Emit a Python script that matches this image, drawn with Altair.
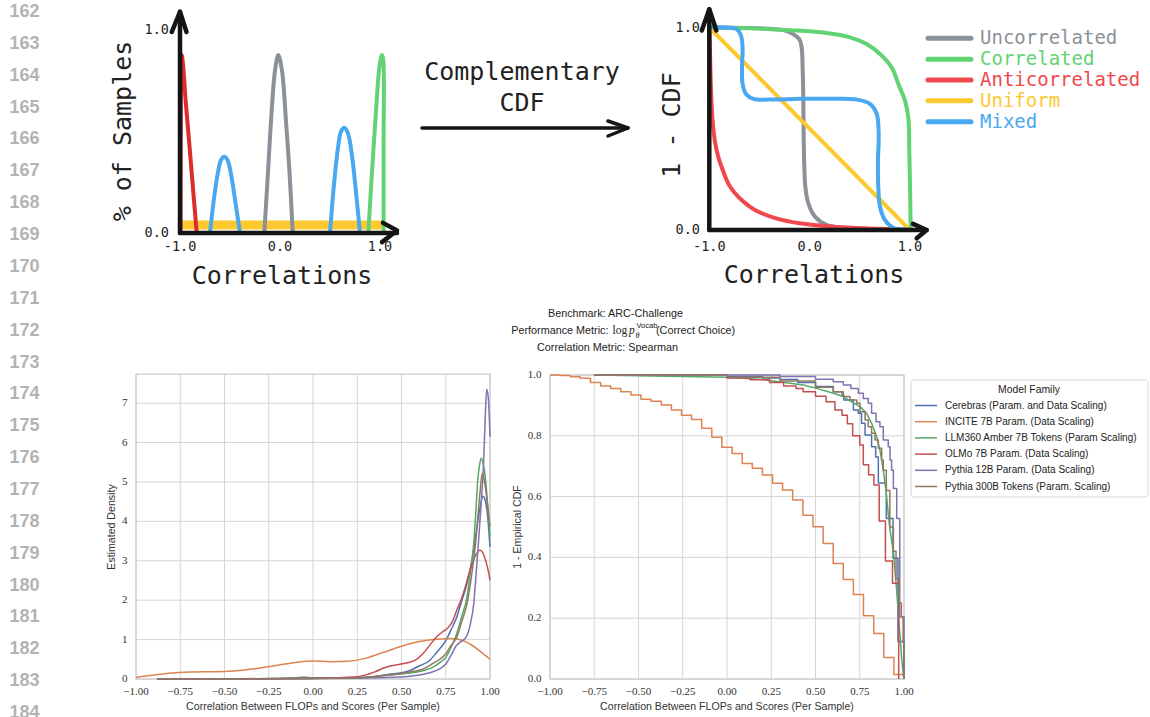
import altair as alt
import pandas as pd

# ---------------- gutter line numbers ----------------
LINE_NUMBERS = list(range(162, 185))

# ---------------- sketch 1: share of samples per correlation ----------------
TL_YELLOW_C = [-0.98, 1.0]
TL_YELLOW_V = [0.039, 0.039]
TL_RED_C = [-0.995, -0.993, -0.989, -0.982, -0.968, -0.945, -0.907, -0.87, -0.833]
TL_RED_V = [0.0, 0.45, 0.78, 0.877, 0.82, 0.66, 0.44, 0.22, 0.0]
TL_BLUE1_C = [-0.70, -0.66, -0.62, -0.59, -0.557, -0.525, -0.49, -0.45, -0.40]
TL_BLUE1_V = [0.0, 0.17, 0.30, 0.36, 0.376, 0.36, 0.29, 0.165, 0.0]
TL_GRAY_C = [-0.157, -0.12, -0.09, -0.05, -0.017, 0.02, 0.06, 0.095, 0.127]
TL_GRAY_V = [0.0, 0.30, 0.55, 0.80, 0.877, 0.80, 0.55, 0.30, 0.0]
TL_BLUE2_C = [0.50, 0.54, 0.58, 0.61, 0.643, 0.68, 0.72, 0.76, 0.80]
TL_BLUE2_V = [0.0, 0.24, 0.42, 0.50, 0.518, 0.49, 0.38, 0.20, 0.0]
TL_GREEN_C = [0.883, 0.92, 0.96, 0.995, 1.02, 1.033, 1.036, 1.036]
TL_GREEN_V = [0.0, 0.30, 0.60, 0.82, 0.877, 0.85, 0.45, 0.0]

# ---------------- sketch 2: complementary CDFs ----------------
TR_GRAY_C = [-1.0, -0.595, -0.262, -0.163, -0.103, -0.080, -0.070, -0.063, -0.060,
             -0.053, -0.043, -0.013, 0.053, 0.169, 0.402, 0.734, 1.0]
TR_GRAY_V = [1.0, 0.997, 0.987, 0.967, 0.943, 0.902, 0.803, 0.639, 0.475,
             0.311, 0.213, 0.131, 0.066, 0.025, 0.008, 0.003, 0.0]
TR_GREEN_C = [-1.0, -0.6, -0.196, 0.136, 0.402, 0.568, 0.701, 0.817, 0.884, 0.950,
              0.983, 0.993, 1.0, 1.007]
TR_GREEN_V = [1.0, 0.996, 0.987, 0.975, 0.951, 0.918, 0.869, 0.803, 0.721, 0.639,
              0.557, 0.393, 0.221, 0.008]
TR_RED_C = [-1.0, -0.993, -0.985, -0.970, -0.945, -0.910, -0.877, -0.80, -0.678,
            -0.55, -0.35, -0.10, 0.24, 0.57, 1.0]
TR_RED_V = [1.0, 0.88, 0.72, 0.56, 0.44, 0.36, 0.311, 0.22, 0.148,
            0.10, 0.06, 0.033, 0.016, 0.008, 0.003]
TR_YELLOW_C = [-1.0, 1.0]
TR_YELLOW_V = [1.0, 0.0]
TR_BLUE_C = [-1.0, -0.827, -0.728, -0.69, -0.672, -0.668, -0.674, -0.668, -0.635,
             -0.561, -0.395, -0.096, 0.269, 0.468, 0.601, 0.668, 0.688, 0.681,
             0.684, 0.701, 0.751, 0.834, 1.0]
TR_BLUE_V = [1.003, 1.0, 0.992, 0.967, 0.93, 0.885, 0.803, 0.721, 0.672,
             0.648, 0.644, 0.648, 0.648, 0.644, 0.623, 0.574, 0.475, 0.344,
             0.213, 0.115, 0.049, 0.011, 0.003]

SKETCH_NAMES = ["Uncorrelated", "Correlated", "Anticorrelated", "Uniform", "Mixed"]
SKETCH_COLORS = ["#8a9198", "#62d372", "#f0484d", "#fcc930", "#4aa8f0"]

# ---------------- model families ----------------
FAMILIES = [
    "Cerebras (Param. and Data Scaling)",
    "INCITE 7B Param. (Data Scaling)",
    "LLM360 Amber 7B Tokens (Param Scaling)",
    "OLMo 7B Param. (Data Scaling)",
    "Pythia 12B Param. (Data Scaling)",
    "Pythia 300B Tokens (Param. Scaling)",
]
FAMILY_COLORS = ["#4c72b0", "#dd8452", "#55a868", "#c44e52", "#8172b3", "#937860"]

# kernel density estimates
KDE_CEREBRAS_C = [-0.88, -0.4, 0.0, 0.25, 0.35, 0.43, 0.5, 0.544, 0.6, 0.659, 0.70, 0.751,
                  0.78, 0.812, 0.84, 0.87, 0.895, 0.918, 0.94, 0.96, 0.972, 0.985, 1.0]
KDE_CEREBRAS_D = [0.0, 0.005, 0.015, 0.03, 0.06, 0.12, 0.16, 0.21, 0.33, 0.47, 0.68, 0.98,
                  1.25, 1.57, 1.98, 2.42, 2.95, 3.6, 4.25, 4.64, 4.55, 4.2, 3.35]
KDE_INCITE_C = [-1.0, -0.9, -0.8, -0.7, -0.6, -0.5, -0.4, -0.3, -0.2, -0.1, 0.0, 0.1, 0.2,
                0.3, 0.4, 0.5, 0.6, 0.7, 0.78, 0.85, 0.9, 0.95, 1.0]
KDE_INCITE_D = [0.04, 0.10, 0.15, 0.175, 0.185, 0.19, 0.22, 0.28, 0.35, 0.42, 0.455, 0.44,
                0.45, 0.53, 0.68, 0.83, 0.95, 1.01, 1.03, 0.97, 0.85, 0.68, 0.50]
KDE_LLM360_C = [-0.88, -0.3, -0.1, -0.05, 0.0, 0.25, 0.43, 0.5, 0.582, 0.63, 0.678, 0.72,
                0.751, 0.78, 0.812, 0.84, 0.87, 0.89, 0.908, 0.92, 0.931, 0.94, 0.95,
                0.962, 0.975, 0.988, 1.0]
KDE_LLM360_D = [0.0, 0.005, 0.03, 0.05, 0.03, 0.03, 0.10, 0.13, 0.17, 0.22, 0.30, 0.43,
                0.55, 0.80, 1.15, 1.58, 2.08, 2.75, 3.43, 4.25, 5.05, 5.4, 5.60,
                5.45, 5.05, 4.35, 3.6]
KDE_OLMO_C = [-0.88, -0.5, 0.0, 0.25, 0.35, 0.4, 0.45, 0.5, 0.55, 0.585, 0.62, 0.66, 0.70,
              0.74, 0.765, 0.79, 0.81, 0.84, 0.86, 0.88, 0.90, 0.92, 0.943, 0.96, 0.975,
              0.99, 1.0]
KDE_OLMO_D = [0.0, 0.005, 0.02, 0.06, 0.18, 0.28, 0.34, 0.38, 0.43, 0.50, 0.64, 0.86, 1.08,
              1.22, 1.31, 1.48, 1.72, 2.05, 2.33, 2.65, 2.93, 3.15, 3.27, 3.2, 3.01,
              2.75, 2.5]
KDE_PYTHIA12_C = [-0.88, 0.0, 0.25, 0.5, 0.6, 0.66, 0.72, 0.75, 0.78, 0.81, 0.84, 0.865,
                  0.889, 0.908, 0.923, 0.937, 0.95, 0.962, 0.972, 0.981, 0.99, 1.0]
KDE_PYTHIA12_D = [0.0, 0.01, 0.02, 0.05, 0.10, 0.16, 0.27, 0.38, 0.60, 0.85, 0.96, 1.06,
                  1.40, 1.91, 2.76, 3.6, 4.45, 5.30, 6.5, 7.35, 7.15, 6.15]
KDE_PYTHIA300_C = [-0.88, -0.3, 0.0, 0.25, 0.43, 0.5, 0.55, 0.621, 0.68, 0.751, 0.78, 0.812,
                   0.84, 0.87, 0.895, 0.918, 0.935, 0.943, 0.956, 0.968, 0.981, 1.0]
KDE_PYTHIA300_D = [0.0, 0.005, 0.015, 0.03, 0.10, 0.14, 0.18, 0.25, 0.40, 0.64, 0.85, 1.06,
                   1.45, 1.91, 2.6, 3.43, 4.3, 4.7, 5.22, 5.05, 4.62, 3.86]

# 1 - empirical CDF, value after each step
ECDF_CEREBRAS_C = [-0.75, 0.0, 0.2, 0.3, 0.4, 0.5, 0.6, 0.65, 0.66, 0.714, 0.742, 0.76, 0.78,
                   0.817, 0.84, 0.855, 0.90, 0.938, 0.966, 1.0]
ECDF_CEREBRAS_V = [1.0, 0.995, 0.99, 0.985, 0.975, 0.962, 0.945, 0.934, 0.918, 0.885, 0.874,
                   0.841, 0.803, 0.764, 0.73, 0.645, 0.528, 0.397, 0.123, 0.0]
ECDF_INCITE_C = [-1.0, -0.943, -0.886, -0.829, -0.771, -0.714, -0.657, -0.6, -0.543, -0.486,
                 -0.429, -0.371, -0.314, -0.257, -0.2, -0.143, -0.086, -0.029, 0.029, 0.086,
                 0.143, 0.2, 0.257, 0.314, 0.371, 0.429, 0.486, 0.543, 0.6, 0.657, 0.714,
                 0.771, 0.829, 0.886, 0.943, 1.0]
ECDF_INCITE_V = [1.0, 0.998, 0.994, 0.989, 0.975, 0.964, 0.956, 0.945, 0.934, 0.920,
                 0.914, 0.901, 0.885, 0.868, 0.854, 0.825, 0.795, 0.762, 0.742, 0.709,
                 0.693, 0.671, 0.644, 0.622, 0.589, 0.539, 0.501, 0.446, 0.380, 0.327, 0.278,
                 0.208, 0.150, 0.071, 0.015, 0.0]
ECDF_LLM360_C = [-0.75, 0.0, 0.2, 0.431, 0.507, 0.601, 0.657, 0.704, 0.751, 0.789, 0.817,
                 0.846, 0.864, 0.883, 0.898, 0.911, 0.921, 0.94, 0.959, 0.977, 0.987, 0.996,
                 1.0]
ECDF_LLM360_V = [1.0, 0.993, 0.985, 0.967, 0.956, 0.940, 0.929, 0.912, 0.896, 0.874, 0.841,
                 0.797, 0.753, 0.687, 0.622, 0.545, 0.49, 0.419, 0.287, 0.145, 0.068, 0.013,
                 0.0]
ECDF_OLMO_C = [-0.75, 0.0, 0.13, 0.24, 0.32, 0.39, 0.43, 0.5, 0.56, 0.61, 0.65, 0.68, 0.71,
               0.75, 0.77, 0.80, 0.83, 0.86, 0.895, 0.935, 0.97]
ECDF_OLMO_V = [1.0, 0.99, 0.984, 0.975, 0.964, 0.956, 0.945, 0.93, 0.912, 0.885, 0.868, 0.840,
               0.800, 0.770, 0.705, 0.672, 0.638, 0.52, 0.388, 0.315, 0.0]
ECDF_PYTHIA12_C = [-0.75, 0.3, 0.5, 0.6, 0.657, 0.7, 0.742, 0.77, 0.798, 0.817, 0.842, 0.864,
                   0.883, 0.911, 0.921, 0.930, 0.940, 0.959, 0.976, 1.0]
ECDF_PYTHIA12_V = [1.0, 0.995, 0.986, 0.978, 0.967, 0.956, 0.940, 0.923, 0.907, 0.874, 0.846,
                   0.830, 0.786, 0.764, 0.720, 0.687, 0.627, 0.528, 0.205, 0.0]
ECDF_PYTHIA300_C = [-0.75, 0.0, 0.3, 0.5, 0.601, 0.657, 0.695, 0.733, 0.751, 0.780, 0.798,
                    0.817, 0.836, 0.855, 0.874, 0.883, 0.9, 0.92, 0.94, 0.955, 0.97, 0.985,
                    0.995, 1.0]
ECDF_PYTHIA300_V = [1.0, 0.993, 0.98, 0.96, 0.945, 0.929, 0.918, 0.907, 0.879, 0.852, 0.830,
                    0.808, 0.786, 0.759, 0.720, 0.687, 0.62, 0.5, 0.42, 0.33, 0.25, 0.205,
                    0.12, 0.0]

CORR_TICKS = [-1.0, -0.75, -0.5, -0.25, 0.0, 0.25, 0.5, 0.75, 1.0]
CORR_TICK_LABELS = ["\u22121.00", "\u22120.75", "\u22120.50", "\u22120.25", "0.00", "0.25",
                    "0.50", "0.75", "1.00"]
DENSITY_TICKS = [0, 1, 2, 3, 4, 5, 6, 7]
CDF_TICKS = [0.0, 0.2, 0.4, 0.6, 0.8, 1.0]
CDF_TICK_LABELS = ["0.0", "0.2", "0.4", "0.6", "0.8", "1.0"]
SKETCH_XTICKS = [-1.0, 0.0, 1.0]
SKETCH_XLABELS = ["-1.0", "0.0", "1.0"]
SKETCH_YTICKS = [0.0, 1.0]
SKETCH_YLABELS = ["0.0", "1.0"]

# ---------------- layout ----------------
W, H = 1150, 717
MONO = "DejaVu Sans Mono"
SANS = "Liberation Sans"
SERIF = "Liberation Serif"
DENSITY_TOP = 7.74


def lin(domain, rng):
    return alt.Scale(domain=domain, range=rng, nice=False, zero=False)


TL_X, TL_Y = lin([-1, 1], [180, 380]), lin([0, 1], [233, 30])
TR_X, TR_Y = lin([-1, 1], [709.3, 910]), lin([0, 1], [230, 27.5])
BL_X, BL_Y = lin([-1, 1], [136, 490]), lin([0, DENSITY_TOP], [679, 374])
BR_X, BR_Y = lin([-1, 1], [550, 904]), lin([0, 1], [679, 375])

layers = []


def path(cs, vs, color, xs, ys, width=4.0, interp="catmull-rom", opacity=1.0, cap="round"):
    df = pd.DataFrame({"c": cs, "v": vs, "i": list(range(len(cs)))})
    return alt.Chart(df).mark_line(
        color=color, strokeWidth=width, interpolate=interp, strokeCap=cap,
        strokeJoin="round", opacity=opacity,
    ).encode(
        x=alt.X("c:Q", scale=xs, axis=None),
        y=alt.Y("v:Q", scale=ys, axis=None),
        order=alt.Order("i:Q"),
    )


def text_at(label, x, y, size, font=SANS, color="#222222", align="center",
            baseline="middle", angle=0, weight="normal", style="normal"):
    df = pd.DataFrame({"t": [label]})
    return alt.Chart(df).mark_text(
        fontSize=size, font=font, color=color, align=align, baseline=baseline,
        angle=angle, fontWeight=weight, fontStyle=style,
    ).encode(x=alt.value(x), y=alt.value(y), text="t:N")


# gutter numbers
ln_df = pd.DataFrame({"n": LINE_NUMBERS, "t": [str(n) for n in LINE_NUMBERS]})
layers.append(
    alt.Chart(ln_df).mark_text(font=SANS, fontSize=18, fontWeight="bold", color="#b3b3b3",
                                align="center", baseline="middle").encode(
        x=alt.value(24.5),
        y=alt.Y("n:Q", scale=lin([162, 184], [12, 713]), axis=None),
        text="t:N",
    )
)

# ---------- sketch 1 ----------
layers.append(path(TL_YELLOW_C, TL_YELLOW_V, "#fcc930", TL_X, TL_Y, width=9))
layers.append(path(TL_BLUE1_C, TL_BLUE1_V, "#4aa8f0", TL_X, TL_Y))
layers.append(path(TL_GRAY_C, TL_GRAY_V, "#8a9198", TL_X, TL_Y))
layers.append(path(TL_BLUE2_C, TL_BLUE2_V, "#4aa8f0", TL_X, TL_Y))
layers.append(path(TL_GREEN_C, TL_GREEN_V, "#62d372", TL_X, TL_Y))
layers.append(path(TL_RED_C, TL_RED_V, "#dc2d2d", TL_X, TL_Y))
# axes with arrow heads
layers.append(path([-1.0, -1.0], [0.0, 1.09], "#151515", TL_X, TL_Y, width=4.5, interp="linear"))
layers.append(path([-1.0, 1.17], [0.0, 0.0], "#151515", TL_X, TL_Y, width=4.5, interp="linear"))
layers.append(path([-1.083, -1.0, -0.935], [0.99, 1.09, 0.99], "#151515", TL_X, TL_Y,
                   width=4.5, interp="linear"))
layers.append(path([1.03, 1.17, 1.02], [0.05, 0.012, -0.045], "#151515", TL_X, TL_Y,
                   width=4.5, interp="linear"))
tl_xt = pd.DataFrame({"c": SKETCH_XTICKS, "t": SKETCH_XLABELS})
layers.append(alt.Chart(tl_xt).mark_text(font=MONO, fontSize=13.5, color="#222222",
                                         baseline="middle").encode(
    x=alt.X("c:Q", scale=TL_X, axis=None), y=alt.value(247), text="t:N"))
tl_yt = pd.DataFrame({"v": SKETCH_YTICKS, "t": SKETCH_YLABELS})
layers.append(alt.Chart(tl_yt).mark_text(font=MONO, fontSize=13.5, color="#222222",
                                         align="right", baseline="middle").encode(
    x=alt.value(169), y=alt.Y("v:Q", scale=TL_Y, axis=None), text="t:N"))
layers.append(text_at("% of Samples", 123, 131, 25, font=MONO, angle=270))
layers.append(text_at("Correlations", 282, 276, 25, font=MONO))

# ---------- middle arrow ----------
layers.append(text_at("Complementary", 522, 72, 25, font=MONO))
layers.append(text_at("CDF", 522, 103, 25, font=MONO))
arrow_df = pd.DataFrame({"k": [0]})
for x1, y1, x2, y2 in [(422, 128, 627, 128), (608, 121, 628, 128), (608, 136, 628, 128)]:
    layers.append(alt.Chart(arrow_df).mark_rule(color="#151515", strokeWidth=3.5,
                                                strokeCap="round").encode(
        x=alt.value(x1), y=alt.value(y1), x2=alt.value(x2), y2=alt.value(y2)))

# ---------- sketch 2 ----------
layers.append(path(TR_GRAY_C, TR_GRAY_V, SKETCH_COLORS[0], TR_X, TR_Y))
layers.append(path(TR_GREEN_C, TR_GREEN_V, SKETCH_COLORS[1], TR_X, TR_Y))
layers.append(path(TR_RED_C, TR_RED_V, SKETCH_COLORS[2], TR_X, TR_Y))
layers.append(path(TR_YELLOW_C, TR_YELLOW_V, SKETCH_COLORS[3], TR_X, TR_Y, interp="linear"))
layers.append(path(TR_BLUE_C, TR_BLUE_V, SKETCH_COLORS[4], TR_X, TR_Y))
layers.append(path([-1.0, -1.0], [0.0, 1.09], "#151515", TR_X, TR_Y, width=4.5, interp="linear"))
layers.append(path([-1.0, 1.166], [0.0, 0.0], "#151515", TR_X, TR_Y, width=4.5, interp="linear"))
layers.append(path([-1.075, -1.0, -0.93], [0.985, 1.09, 0.985], "#151515", TR_X, TR_Y,
                   width=4.5, interp="linear"))
layers.append(path([1.03, 1.166, 1.067], [0.03, 0.0, -0.041], "#151515", TR_X, TR_Y,
                   width=4.5, interp="linear"))
layers.append(alt.Chart(tl_xt).mark_text(font=MONO, fontSize=13.5, color="#222222",
                                         baseline="middle").encode(
    x=alt.X("c:Q", scale=TR_X, axis=None), y=alt.value(247), text="t:N"))
layers.append(alt.Chart(tl_yt).mark_text(font=MONO, fontSize=13.5, color="#222222",
                                         align="right", baseline="middle").encode(
    x=alt.value(700), y=alt.Y("v:Q", scale=TR_Y, axis=None), text="t:N"))
layers.append(text_at("1 - CDF", 672, 125, 25, font=MONO, angle=270))
layers.append(text_at("Correlations", 814, 275, 25, font=MONO))

# sketch legend
sk_df = pd.DataFrame({"name": SKETCH_NAMES})
sk_y = alt.Scale(domain=SKETCH_NAMES, range=[38.3, 121.7], type="point", padding=0)
sk_c = alt.Scale(domain=SKETCH_NAMES, range=SKETCH_COLORS)
layers.append(alt.Chart(sk_df).mark_rule(strokeWidth=5, strokeCap="round").encode(
    x=alt.value(928), x2=alt.value(971),
    y=alt.Y("name:N", scale=sk_y, axis=None),
    color=alt.Color("name:N", scale=sk_c, legend=None)))
layers.append(alt.Chart(sk_df).mark_text(font=MONO, fontSize=19, align="left",
                                         baseline="middle").encode(
    x=alt.value(980),
    y=alt.Y("name:N", scale=sk_y, axis=None),
    color=alt.Color("name:N", scale=sk_c, legend=None),
    text="name:N"))

# ---------- figure title ----------
layers.append(text_at("Benchmark: ARC-Challenge", 615.5, 314, 10.8))
layers.append(text_at("Performance Metric:", 608.5, 331, 10.8, align="right"))
layers.append(text_at("log", 612.5, 331, 11.5, font=SERIF, align="left"))
layers.append(text_at("p", 629, 331, 11.5, font=SERIF, align="left", style="italic"))
layers.append(text_at("\u03b8", 635.5, 335.5, 8, font=SERIF, align="left", style="italic"))
layers.append(text_at("Vocab", 636.5, 326, 7.5, align="left"))
layers.append(text_at("(Correct Choice)", 656, 331, 10.8, align="left"))
layers.append(text_at("Correlation Metric: Spearman", 607.5, 347.5, 10.8))


# ---------- bottom panels ----------
def panel(xs, ys, ytop, yticks, ylabels, ytick_x, xtitle_x, ytitle, ytitle_x):
    out = []
    vg = pd.DataFrame({"c": CORR_TICKS, "lo": 0.0, "hi": ytop})
    out.append(alt.Chart(vg).mark_rule(color="#d5d5d5", strokeWidth=1).encode(
        x=alt.X("c:Q", scale=xs, axis=None),
        y=alt.Y("lo:Q", scale=ys, axis=None), y2="hi:Q"))
    hg = pd.DataFrame({"v": yticks, "lo": -1.0, "hi": 1.0})
    out.append(alt.Chart(hg).mark_rule(color="#d5d5d5", strokeWidth=1).encode(
        y=alt.Y("v:Q", scale=ys, axis=None),
        x=alt.X("lo:Q", scale=xs, axis=None), x2="hi:Q"))
    fr = pd.DataFrame({"x0": [-1.0], "x1": [1.0], "y0": [0.0], "y1": [ytop]})
    out.append(alt.Chart(fr).mark_rect(filled=False, stroke="#cccccc", strokeWidth=1.25).encode(
        x=alt.X("x0:Q", scale=xs, axis=None), x2="x1:Q",
        y=alt.Y("y0:Q", scale=ys, axis=None), y2="y1:Q"))
    xt = pd.DataFrame({"c": CORR_TICKS, "t": CORR_TICK_LABELS})
    out.append(alt.Chart(xt).mark_text(font=SERIF, fontSize=11, color="#333333",
                                       baseline="middle").encode(
        x=alt.X("c:Q", scale=xs, axis=None), y=alt.value(692), text="t:N"))
    yt = pd.DataFrame({"v": yticks, "t": ylabels})
    out.append(alt.Chart(yt).mark_text(font=SERIF, fontSize=11, color="#333333",
                                       align="right", baseline="middle").encode(
        x=alt.value(ytick_x), y=alt.Y("v:Q", scale=ys, axis=None), text="t:N"))
    out.append(text_at("Correlation Between FLOPs and Scores (Per Sample)", xtitle_x, 707, 10.6,
                       color="#333333"))
    out.append(text_at(ytitle, ytitle_x, 527, 10.6, color="#333333", angle=270))
    return out


layers += panel(BL_X, BL_Y, DENSITY_TOP, DENSITY_TICKS, [str(t) for t in DENSITY_TICKS],
                127.5, 313, "Estimated Density", 112)
layers += panel(BR_X, BR_Y, 1.0, CDF_TICKS, CDF_TICK_LABELS, 541.5, 727,
                "1 - Empirical CDF", 518)

kde = [(KDE_CEREBRAS_C, KDE_CEREBRAS_D), (KDE_INCITE_C, KDE_INCITE_D),
       (KDE_LLM360_C, KDE_LLM360_D), (KDE_OLMO_C, KDE_OLMO_D),
       (KDE_PYTHIA12_C, KDE_PYTHIA12_D), (KDE_PYTHIA300_C, KDE_PYTHIA300_D)]
for (cs, ds), col in zip(kde, FAMILY_COLORS):
    layers.append(path(cs, ds, col, BL_X, BL_Y, width=1.5, interp="monotone", cap="butt"))

ecdf = [(ECDF_CEREBRAS_C, ECDF_CEREBRAS_V, "step-after"),
        (ECDF_INCITE_C, ECDF_INCITE_V, "step-after"),
        (ECDF_LLM360_C, ECDF_LLM360_V, "linear"),
        (ECDF_OLMO_C, ECDF_OLMO_V, "step-after"),
        (ECDF_PYTHIA12_C, ECDF_PYTHIA12_V, "step-after"),
        (ECDF_PYTHIA300_C, ECDF_PYTHIA300_V, "step-after")]
for (cs, vs, mode), col in zip(ecdf, FAMILY_COLORS):
    layers.append(path(cs, vs, col, BR_X, BR_Y, width=1.5, interp=mode, cap="butt"))

# family legend
box = pd.DataFrame({"k": [0]})
layers.append(alt.Chart(box).mark_rect(fill="white", stroke="#d6d6d6", strokeWidth=1,
                                       cornerRadius=3).encode(
    x=alt.value(911), x2=alt.value(1148), y=alt.value(380), y2=alt.value(497)))
layers.append(text_at("Model Family", 1029, 390, 10.4, color="#222222"))
fam_df = pd.DataFrame({"name": FAMILIES})
fam_y = alt.Scale(domain=FAMILIES, range=[405.5, 486.5], type="point", padding=0)
fam_c = alt.Scale(domain=FAMILIES, range=FAMILY_COLORS)
layers.append(alt.Chart(fam_df).mark_rule(strokeWidth=1.5).encode(
    x=alt.value(915), x2=alt.value(937),
    y=alt.Y("name:N", scale=fam_y, axis=None),
    color=alt.Color("name:N", scale=fam_c, legend=None)))
layers.append(alt.Chart(fam_df).mark_text(font=SANS, fontSize=10, color="#222222",
                                          align="left", baseline="middle").encode(
    x=alt.value(945), y=alt.Y("name:N", scale=fam_y, axis=None), text="name:N"))

chart = alt.layer(*layers).resolve_scale(
    x="independent", y="independent", color="independent"
).properties(
    width=W, height=H, padding=0, background="white",
    autosize=alt.AutoSizeParams(type="none"),
).configure_view(stroke=None)

chart.save("out.html", embed_options={"renderer": "svg", "actions": False})
